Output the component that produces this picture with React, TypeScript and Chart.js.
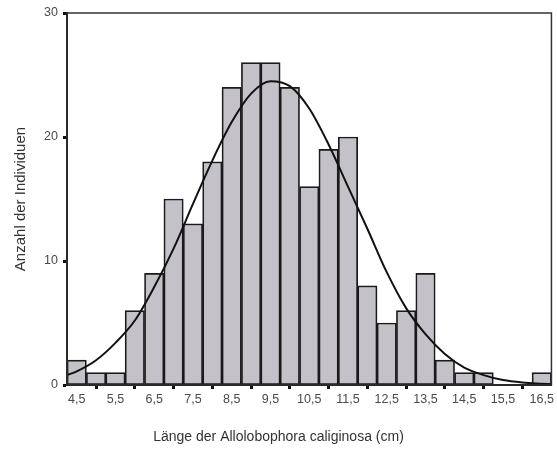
import React, { useEffect, useRef } from "react";
import { Chart, registerables } from "chart.js";

Chart.register(...registerables);

// Bin centres (cm), bin width 0.5
const binCenters = [4.5, 5.0, 5.5, 6.0, 6.5, 7.0, 7.5, 8.0, 8.5, 9.0, 9.5, 10.0, 10.5, 11.0, 11.5, 12.0, 12.5, 13.0, 13.5, 14.0, 14.5, 15.0, 15.5, 16.0, 16.5];
const counts = [2, 1, 1, 6, 9, 15, 13, 18, 24, 26, 26, 24, 16, 19, 20, 8, 5, 6, 9, 2, 1, 1, 0, 0, 1];

// Normal curve
const curveX = [4.25, 4.5, 5.0, 5.5, 6.0, 6.5, 7.0, 7.5, 8.0, 8.5, 9.0, 9.5, 10.0, 10.5, 11.0, 11.5, 12.0, 12.5, 13.0, 13.5, 14.0, 14.5, 15.0, 15.5, 16.0, 16.5, 16.75];
const curveY = [0.8, 1.1, 2.0, 3.4, 5.2, 7.9, 11.0, 14.6, 18.1, 21.2, 23.5, 24.5, 24.1, 22.3, 19.4, 16.0, 12.6, 9.1, 6.2, 4.1, 2.5, 1.4, 0.8, 0.4, 0.2, 0.1, 0.06];

const xTicks = [4.5, 5.5, 6.5, 7.5, 8.5, 9.5, 10.5, 11.5, 12.5, 13.5, 14.5, 15.5, 16.5];
const xTickLabels = ["4,5", "5,5", "6,5", "7,5", "8,5", "9,5", "10,5", "11,5", "12,5", "13,5", "14,5", "15,5", "16,5"];
const yTicks = [0, 10, 20, 30];
const yTickLabels = ["0", "10", "20", "30"];

const xTitle = "Länge der Allolobophora caliginosa (cm)";
const yTitle = "Anzahl der Individuen";

const FONT = "'Liberation Sans', Arial, sans-serif";

const framePlugin = {
  id: "frame",
  afterDatasetsDraw(chart: any) {
    const { ctx, chartArea } = chart;
    ctx.save();
    ctx.strokeStyle = "#333";
    ctx.lineWidth = 1.5;
    ctx.strokeRect(chartArea.left, chartArea.top, chartArea.right - chartArea.left, chartArea.bottom - chartArea.top);
    ctx.restore();
  },
};

// x-axis title centred on the whole figure (as in the original)
const xTitlePlugin = {
  id: "xTitle",
  afterDraw(chart: any) {
    const { ctx, width } = chart;
    ctx.save();
    ctx.fillStyle = "#333";
    ctx.font = `14px ${FONT}`;
    ctx.textAlign = "center";
    ctx.textBaseline = "middle";
    ctx.fillText(xTitle, width / 2, 437);
    ctx.restore();
  },
};

export default function App() {
  const ref = useRef<HTMLCanvasElement>(null);

  useEffect(() => {
    const canvas = ref.current;
    if (!canvas) return;
    const barData = binCenters
      .map((x, i) => ({ x, y: counts[i] }))
      .filter((d) => d.y > 0);
    const lineData = curveX.map((x, i) => ({ x, y: curveY[i] }));

    const chart = new Chart(canvas, {
      type: "bar",
      data: {
        datasets: [
          {
            type: "line",
            data: lineData,
            borderColor: "#111",
            borderWidth: 2,
            pointRadius: 0,
            tension: 0.4,
            cubicInterpolationMode: "monotone",
            fill: false,
            order: 0,
          } as any,
          {
            type: "bar",
            data: barData,
            backgroundColor: "#c4c2c8",
            borderColor: "#1a1a1a",
            borderWidth: 1.7,
            borderSkipped: false,
            barPercentage: 1,
            categoryPercentage: 1,
            grouped: false,
            order: 1,
          } as any,
        ],
      },
      options: {
        animation: false,
        responsive: false,
        maintainAspectRatio: false,
        layout: { padding: { left: 0, right: 4, top: 13, bottom: 0 } },
        plugins: { legend: { display: false }, tooltip: { enabled: false } },
        scales: {
          x: {
            type: "linear",
            min: 4.25,
            max: 16.75,
            offset: false,
            afterBuildTicks: (scale: any) => {
              scale.ticks = xTicks.map((v) => ({ value: v }));
            },
            afterFit: (scale: any) => {
              scale.height = 65;
            },
            ticks: {
              autoSkip: false,
              maxRotation: 0,
              padding: 3,
              color: "#4a4a4a",
              font: { family: FONT, size: 12.5 },
              callback: (v: any) => {
                const i = xTicks.indexOf(Number(v));
                return i >= 0 ? xTickLabels[i] : "";
              },
            },
            grid: {
              drawOnChartArea: false,
              drawTicks: true,
              tickLength: 4,
              tickWidth: 3,
              tickColor: "#111",
              color: "#111",
            },
            border: { display: true, color: "#111", width: 2 },
            title: { display: false },
          },
          y: {
            type: "linear",
            min: 0,
            max: 30,
            afterBuildTicks: (scale: any) => {
              scale.ticks = yTicks.map((v) => ({ value: v }));
            },
            afterFit: (scale: any) => {
              scale.width = 67;
            },
            ticks: {
              padding: 5,
              color: "#4a4a4a",
              font: { family: FONT, size: 12.5 },
              callback: (v: any) => {
                const i = yTicks.indexOf(Number(v));
                return i >= 0 ? yTickLabels[i] : "";
              },
            },
            grid: {
              drawOnChartArea: false,
              drawTicks: true,
              tickLength: 4,
              tickWidth: 3,
              tickColor: "#111",
              color: "#111",
            },
            border: { display: true, color: "#111", width: 2 },
            title: {
              display: true,
              text: yTitle,
              color: "#333",
              font: { family: FONT, size: 15 },
              padding: { top: 12, bottom: 0 },
            },
          },
        },
      },
      plugins: [framePlugin, xTitlePlugin],
    });
    return () => chart.destroy();
  }, []);

  return (
    <div style={{ position: "fixed", left: 0, top: 0, width: 557, height: 450, background: "#fff" }}>
      <canvas ref={ref} width={557} height={450} style={{ display: "block", width: 557, height: 450 }} />
    </div>
  );
}
